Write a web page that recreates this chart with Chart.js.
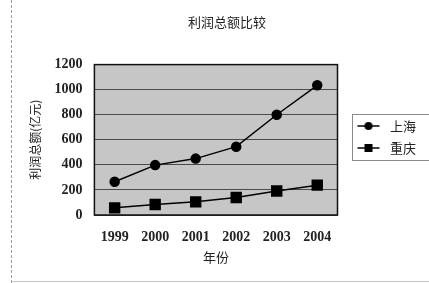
<!DOCTYPE html>
<html>
<head>
<meta charset="utf-8">
<script src="https://cdn.jsdelivr.net/npm/chart.js@4"></script>
<style>
    html, body { margin: 0; padding: 0; background: #ffffff; }
    #chartBox { position: absolute; left: 0; top: 0; width: 429px; height: 283px; }
</style>
</head>
<body>
<div id="chartBox"><canvas id="profitChart"></canvas></div>
<script>
/* ============================================
   利润总额比较 - line chart
============================================ */

// Data
const years = ['1999', '2000', '2001', '2002', '2003', '2004'];
const shanghaiValues = [265, 398, 450, 545, 800, 1035];
const chongqingValues = [57, 84, 105, 140, 192, 238];
const seriesNames = ['上海', '重庆'];
const yTicks = [0, 200, 400, 600, 800, 1000, 1200];

const serifFont = '"Liberation Serif", "DejaVu Serif", serif';
const cjkFont = '"Noto Sans CJK SC", sans-serif';

// blank space left of the legend symbol, so the legend sits away from the plot
const LEGEND_GAP = 11;

/**
 * Build a small legend symbol: line with a marker in the middle
 */
function legendSymbol(style) {
    const c = document.createElement('canvas');
    c.width = LEGEND_GAP + 26;
    c.height = 12;
    const ctx = c.getContext('2d');
    ctx.strokeStyle = '#000';
    ctx.fillStyle = '#000';
    ctx.lineWidth = 1.5;
    ctx.beginPath();
    ctx.moveTo(LEGEND_GAP, 6);
    ctx.lineTo(LEGEND_GAP + 22, 6);
    ctx.stroke();
    const mid = LEGEND_GAP + 11;
    if (style === 'circle') {
        ctx.beginPath();
        ctx.arc(mid, 6, 4, 0, Math.PI * 2);
        ctx.fill();
    } else {
        ctx.fillRect(mid - 4, 2, 8, 8);
    }
    return c;
}

// Gray plot background, page frame line, legend box
const decorPlugin = {
    id: 'decor',
    beforeDraw(chart) {
        const { ctx, chartArea } = chart;
        ctx.save();
        ctx.fillStyle = '#c6c6c6';
        ctx.fillRect(chartArea.left, chartArea.top,
            chartArea.right - chartArea.left, chartArea.bottom - chartArea.top);
        // left page edge (dashed)
        ctx.strokeStyle = '#9a9a9a';
        ctx.setLineDash([3, 2]);
        ctx.beginPath();
        ctx.moveTo(11.5, 0);
        ctx.lineTo(11.5, 283);
        ctx.stroke();
        ctx.setLineDash([]);
        ctx.strokeStyle = '#c4c4c4';
        ctx.beginPath();
        ctx.moveTo(11, 281.5);
        ctx.lineTo(429, 281.5);
        ctx.stroke();
        ctx.restore();
    },
    afterDraw(chart) {
        const { ctx, chartArea } = chart;
        const legend = chart.legend;
        ctx.save();
        // plot border
        ctx.strokeStyle = '#111';
        ctx.lineWidth = 1.5;
        ctx.strokeRect(chartArea.left, chartArea.top,
            chartArea.right - chartArea.left, chartArea.bottom - chartArea.top);
        // legend border
        if (legend && legend.legendHitBoxes && legend.legendHitBoxes.length) {
            const boxes = legend.legendHitBoxes;
            const top = Math.min(...boxes.map(b => b.top)) - 6;
            const bottom = Math.max(...boxes.map(b => b.top + b.height)) + 5;
            const left = Math.min(...boxes.map(b => b.left)) + LEGEND_GAP - 5;
            ctx.strokeStyle = '#8a8a8a';
            ctx.lineWidth = 1;
            ctx.strokeRect(Math.round(left) + 0.5, Math.round(top) + 0.5, 440 - left, bottom - top);
        }
        ctx.restore();
    }
};

const ctx = document.getElementById('profitChart');
const profitChart = new Chart(ctx, {
    type: 'line',
    data: {
        labels: years,
        datasets: [{
            label: seriesNames[0],
            data: shanghaiValues,
            borderColor: '#000',
            backgroundColor: '#000',
            borderWidth: 1.5,
            pointStyle: 'circle',
            pointRadius: 4.5,
            pointHoverRadius: 4.5,
            tension: 0,
        }, {
            label: seriesNames[1],
            data: chongqingValues,
            borderColor: '#000',
            backgroundColor: '#000',
            borderWidth: 1.5,
            pointStyle: 'rect',
            pointRadius: 7,
            pointHoverRadius: 7,
            tension: 0,
        }]
    },
    options: {
        responsive: true,
        maintainAspectRatio: false,
        animation: false,
        devicePixelRatio: 1,
        layout: {
            padding: { left: 28, right: 3, top: 10, bottom: 19 }
        },
        plugins: {
            title: {
                display: true,
                text: '利润总额比较',
                color: '#222',
                font: { family: cjkFont, size: 13, weight: 'normal' },
                padding: { top: 4, bottom: 35 },
            },
            legend: {
                position: 'right',
                align: 'center',
                labels: {
                    color: '#222',
                    font: { family: cjkFont, size: 13 },
                    usePointStyle: true,
                    pointStyleWidth: LEGEND_GAP + 26,
                    padding: 9,
                    generateLabels(chart) {
                        return chart.data.datasets.map((ds, i) => ({
                            text: ds.label,
                            pointStyle: legendSymbol(i === 0 ? 'circle' : 'rect'),
                            fillStyle: '#000',
                            strokeStyle: '#000',
                            lineWidth: 0,
                            fontColor: '#222',
                            datasetIndex: i,
                            hidden: false,
                        }));
                    }
                }
            },
            tooltip: { enabled: false }
        },
        scales: {
            x: {
                offset: true,
                grid: { display: false },
                border: { display: false },
                ticks: {
                    color: '#222',
                    font: { family: serifFont, size: 14, weight: 'bold', lineHeight: 1 },
                    padding: 7,
                    maxRotation: 0,
                },
                title: {
                    display: true,
                    text: '年份',
                    color: '#222',
                    font: { family: cjkFont, size: 13, lineHeight: 1 },
                    padding: { top: 0, bottom: 0 },
                }
            },
            y: {
                min: yTicks[0],
                max: yTicks[yTicks.length - 1],
                afterBuildTicks(scale) {
                    scale.ticks = yTicks.map(v => ({ value: v }));
                },
                grid: {
                    color: '#4a4a4a',
                    lineWidth: 1,
                    drawTicks: false,
                },
                border: { display: false },
                ticks: {
                    color: '#222',
                    font: { family: serifFont, size: 14, weight: 'bold' },
                    padding: 12,
                    callback: (value) => String(value),
                },
                title: {
                    display: true,
                    text: '利润总额(亿元)',
                    color: '#222',
                    font: { family: cjkFont, size: 12 },
                    padding: { top: 0, bottom: 0 },
                }
            }
        }
    },
    plugins: [decorPlugin]
});
</script>
</body>
</html>
